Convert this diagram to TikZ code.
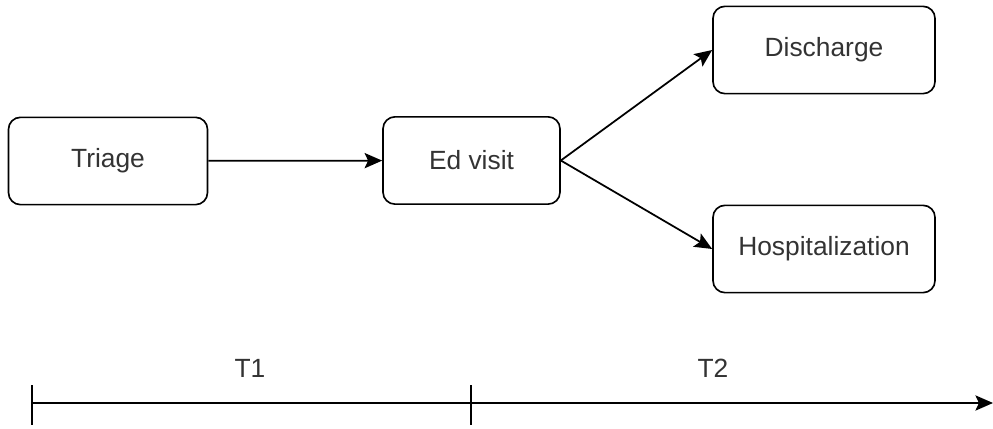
\documentclass[tikz,border=0pt]{standalone}
\usepackage{fontspec}
\setmainfont{Liberation Sans}
\usetikzlibrary{arrows.meta}
\tikzset{
  stage/.style={draw,line width=1.4pt,rounded corners=0.36cm,minimum height=2.62cm,text=black!80,font=\fontsize{22.5}{27}\selectfont},
  flow/.style={-{Stealth[length=15pt,width=13pt,inset=3pt]},line width=1.5pt},
}
\begin{document}
\begin{tikzpicture}[x=0.03cm,y=0.03cm]
\useasboundingbox (0,0) rectangle (993,429);
\node[stage,minimum width=5.97cm] (triage) at (108,268) {Triage};
\node[stage,minimum width=5.31cm] (edvisit) at (471.5,268.5) {Ed visit};
\node[stage,minimum width=6.66cm] (discharge) at (824,379) {Discharge};
\node[stage,minimum width=6.66cm] (hosp) at (824,180) {Hospitalization};
\draw[flow] (triage) -- (edvisit);
\draw[flow] (edvisit.east) -- (discharge.west);
\draw[flow] (edvisit.east) -- (hosp.west);
% time line
\coordinate (t0) at (32,26);
\coordinate (t1) at (471,26);
\coordinate (tend) at (993,26);
\draw[flow] (t0) -- (tend);
\draw[line width=1.2pt] (32,4)--(32,44);
\draw[line width=1.2pt] (471,4)--(471,44);
\node[text=black!80,font=\fontsize{22.5}{27}\selectfont] (T1) at (250,61) {T1};
\node[text=black!80,font=\fontsize{22.5}{27}\selectfont] (T2) at (713,61) {T2};
\end{tikzpicture}
\end{document}
